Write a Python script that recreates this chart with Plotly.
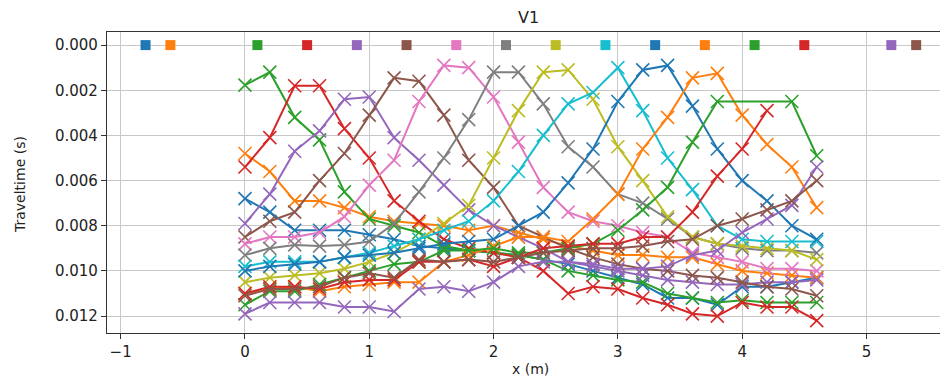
import plotly.graph_objects as go

# Receiver positions (m)
receivers = [0.0, 0.2, 0.4, 0.6, 0.8, 1.0, 1.2, 1.4, 1.6, 1.8, 2.0, 2.2,
             2.4, 2.6, 2.8, 3.0, 3.2, 3.4, 3.6, 3.8, 4.0, 4.2, 4.4, 4.6]

# Source positions (m)
shots = [-0.8, -0.6, 0.1, 0.5, 0.9, 1.3, 1.7, 2.1, 2.5, 2.9, 3.3, 3.7, 4.1, 4.5, 5.2, 5.4]

# Traveltimes in milliseconds, one list per shot (None = no pick)
tt_s_m08 = [6.8, 7.4, 8.2, 8.2, 8.2, 8.4, 8.6, 8.9, 9.0, 9.1, 9.2, 9.3, 9.5, 9.7, 10.0, 10.3, 10.6, 11.2, 11.2, 11.5, 10.7, 10.7, 10.5, 10.3]
tt_s_m06 = [4.8, 5.6, 6.9, 6.9, 7.2, 7.6, 7.8, 7.9, 8.0, 8.2, 8.0, 8.3, 8.6, 8.9, 9.1, 9.3, 9.3, 9.4, 9.4, 9.7, 10.0, 10.1, 10.2, 10.3]
tt_s_01 = [1.77, 1.2, 3.2, 4.2, 6.5, 7.7, 8.0, 8.3, 8.9, 9.1, 9.2, 9.3, 9.5, 10.0, 10.2, 10.4, 10.5, 11.0, 11.2, 11.4, 11.3, 11.4, 11.4, 11.4]
tt_s_05 = [5.4, 4.1, 1.8, 1.8, 3.7, 5.0, 6.9, 7.8, 8.6, 9.0, 9.2, 9.4, 10.0, 11.0, 10.7, 10.8, 11.2, 11.5, 11.9, 12.0, 11.4, 11.6, 11.6, 12.2]
tt_s_09 = [7.9, 6.6, 4.7, 3.8, 2.4, 2.3, 4.1, 5.1, 6.2, 7.3, 8.0, 8.5, 9.0, 9.6, 9.8, 10.0, 10.2, 10.4, 10.5, 10.6, 10.6, 10.5, 10.5, 10.4]
tt_s_13 = [8.5, 7.8, 7.4, 6.0, 4.8, 3.1, 1.45, 1.6, 3.1, 5.1, 6.3, 8.0, 8.5, 9.0, 9.4, 9.7, 9.9, 10.0, 10.2, 10.3, 10.5, 10.7, 10.8, 11.1]
tt_s_17 = [8.8, 8.5, 8.5, 8.3, 7.6, 6.2, 5.1, 2.5, 0.9, 1.0, 2.3, 4.3, 6.3, 7.4, 7.8, 8.0, 8.3, 8.5, 9.2, 9.4, 9.6, 9.9, 9.9, 10.0]
tt_s_21 = [9.3, 9.0, 8.85, 8.9, 8.85, 8.7, 7.9, 6.5, 5.0, 3.3, 1.2, 1.2, 2.6, 4.5, 5.4, 6.6, 7.0, 7.7, 8.5, 8.8, 9.0, 9.1, 9.1, 9.2]
tt_s_25 = [10.5, 10.3, 10.2, 10.1, 9.9, 9.6, 9.2, 8.6, 7.9, 7.1, 5.0, 2.9, 1.2, 1.1, 2.4, 4.5, 6.0, 7.6, 8.5, 8.8, 8.9, 9.0, 9.1, 9.5]
tt_s_29 = [9.8, 9.6, 9.6, 9.6, 9.4, 9.2, 8.9, 8.6, 8.2, 7.8, 6.9, 5.6, 4.0, 2.6, 2.1, 1.0, 2.9, 5.0, 6.4, 8.0, 8.6, 8.7, 8.7, 8.7]
tt_s_33 = [10.0, 9.8, 9.7, 9.6, 9.4, 9.3, 9.2, 9.0, 8.8, 8.7, 8.6, 8.0, 7.4, 6.1, 4.6, 2.5, 1.1, 0.9, 2.7, 4.6, 6.0, 6.9, 8.0, 8.6]
tt_s_37 = [11.0, 10.8, 10.7, 10.9, 10.7, 10.6, 10.5, 10.5, 9.6, 9.3, 8.9, 8.5, 8.5, 8.7, 7.7, 6.6, 4.6, 3.2, 1.45, 1.25, 3.1, 4.4, 5.4, 7.2]
tt_s_41 = [11.5, 10.9, 10.9, 10.6, 10.3, 10.0, 9.7, 9.6, 9.1, 9.1, 9.0, 9.2, 9.2, 9.0, 8.8, 8.2, 7.3, 6.3, 4.3, 2.5, None, None, 2.5, 4.9]
tt_s_45 = [11.0, 10.7, 10.7, 10.8, 10.5, 10.4, 10.4, 9.6, 9.6, 9.5, 9.8, 9.4, 9.0, 8.9, 8.8, 8.8, 8.5, 8.5, 7.4, 5.8, 4.6, 2.9, None, None]
tt_s_52 = [11.9, 11.4, 11.4, 11.4, 11.6, 11.6, 11.8, 10.8, 10.7, 10.9, 10.5, 9.8, 9.6, 9.6, 9.7, 9.9, 9.9, 9.8, 9.3, 9.1, 8.3, 7.7, 7.1, 5.4]
tt_s_54 = [11.1, 10.8, 10.8, 10.7, 10.3, 10.1, 10.3, 9.5, 9.6, 9.5, 9.6, 9.4, 9.2, 9.1, 9.0, 9.0, 8.9, 8.7, 8.6, 8.0, 7.7, 7.3, 6.9, 6.0]

traveltimes_ms = [tt_s_m08, tt_s_m06, tt_s_01, tt_s_05, tt_s_09, tt_s_13, tt_s_17, tt_s_21,
                  tt_s_25, tt_s_29, tt_s_33, tt_s_37, tt_s_41, tt_s_45, tt_s_52, tt_s_54]

y_ticks = [0.000, 0.002, 0.004, 0.006, 0.008, 0.010, 0.012]
x_ticks = [-1, 0, 1, 2, 3, 4, 5]

palette = ['#1f77b4', '#ff7f0e', '#2ca02c', '#d62728', '#9467bd',
           '#8c564b', '#e377c2', '#7f7f7f', '#bcbd22', '#17becf']

FONT = "DejaVu Sans"
TXT = "#222222"

fig = go.Figure()

for i, tt in enumerate(traveltimes_ms):
    c = palette[i % 10]
    fig.add_trace(go.Scatter(
        x=receivers,
        y=[None if v is None else v / 1000.0 for v in tt],
        mode="lines+markers",
        connectgaps=True,
        line=dict(color=c, width=2),
        marker=dict(symbol="x-thin", size=13, color=c, line=dict(color=c, width=1.6)),
        showlegend=False,
        hoverinfo="skip",
    ))

for i, s in enumerate(shots):
    c = palette[i % 10]
    fig.add_trace(go.Scatter(
        x=[s], y=[0.0], mode="markers",
        marker=dict(symbol="square", size=10, color=c, line=dict(width=0)),
        showlegend=False, hoverinfo="skip",
    ))

# the page body adds an 8px margin, so the figure is sized/offset to compensate
fig.update_layout(
    width=940, height=375,
    margin=dict(l=99, r=0, t=24, b=50),
    paper_bgcolor="white", plot_bgcolor="white",
    font=dict(family=FONT, size=15, color=TXT),
    xaxis=dict(
        range=[-1.11, 5.656], tickvals=x_ticks,
        showgrid=True, gridcolor="#c8c8c8", gridwidth=1,
        zeroline=False, showline=True, linecolor="#333333", linewidth=1.2, mirror=True,
        ticks="outside", ticklen=5, tickcolor="#333333",
        tickfont=dict(family=FONT, size=15, color=TXT),
    ),
    yaxis=dict(
        range=[0.01275, -0.00058], tickvals=y_ticks, tickformat=".3f",
        showgrid=True, gridcolor="#c8c8c8", gridwidth=1,
        zeroline=False, showline=True, linecolor="#333333", linewidth=1.2, mirror=False,
        ticks="outside", ticklen=5, tickcolor="#333333",
        tickfont=dict(family=FONT, size=15, color=TXT),
    ),
    annotations=[
        dict(text="V1", xref="paper", yref="paper", x=(528 - 107) / 841, y=(333 - 17) / 301,
             showarrow=False, xanchor="center", yanchor="middle",
             font=dict(family=FONT, size=16, color=TXT)),
        dict(text="x (m)", xref="paper", yref="paper", x=(530 - 107) / 841, y=(333 - 369) / 301,
             showarrow=False, xanchor="center", yanchor="middle",
             font=dict(family=FONT, size=14, color=TXT)),
        dict(text="Traveltime (s)", xref="paper", yref="paper", x=(20 - 107) / 841, y=(333 - 185) / 301,
             showarrow=False, xanchor="center", yanchor="middle", textangle=-90,
             font=dict(family=FONT, size=14, color=TXT)),
    ],
)

fig.write_html("out.html")
